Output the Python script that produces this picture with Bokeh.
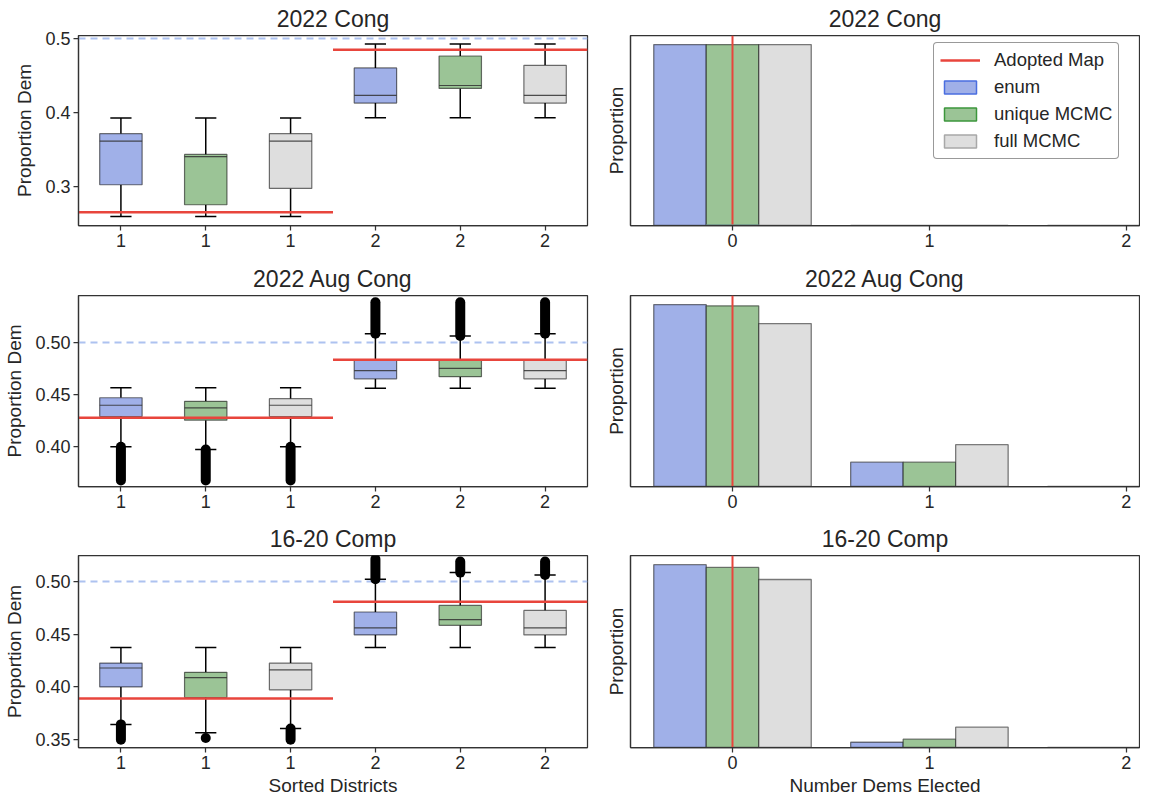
from bokeh.plotting import figure
from bokeh.layouts import column, row
from bokeh.models import Range1d, FixedTicker, PrintfTickFormatter, Legend, LegendItem, ColumnDataSource
from bokeh.embed import file_html
from bokeh.resources import INLINE

# ---------------- data ----------------
titles = ["2022 Cong", "2022 Aug Cong", "16-20 Comp"]
methods = ["enum", "unique MCMC", "full MCMC"]
district_labels = ["1", "2"]
n_dems = [0, 1, 2]

# boxplot stats, order: d1-enum, d1-unique, d1-full, d2-enum, d2-unique, d2-full
cong_wlo = [0.259, 0.259, 0.259, 0.3924, 0.3924, 0.3924]
cong_q1 = [0.302, 0.275, 0.297, 0.4123, 0.432, 0.4123]
cong_med = [0.361, 0.340, 0.361, 0.4226, 0.436, 0.4226]
cong_q3 = [0.371, 0.343, 0.371, 0.4597, 0.4758, 0.4633]
cong_whi = [0.392, 0.392, 0.392, 0.492, 0.492, 0.492]
cong_out_lo = [None, None, None, None, None, None]
cong_out_hi = [None, None, None, None, None, None]
cong_adopted = [0.265, 0.4843]

aug_wlo = [0.3997, 0.3972, 0.3997, 0.456, 0.456, 0.456]
aug_q1 = [0.4288, 0.4253, 0.4288, 0.4649, 0.467, 0.4649]
aug_med = [0.4396, 0.437, 0.4396, 0.4728, 0.475, 0.4728]
aug_q3 = [0.4468, 0.4434, 0.4459, 0.4826, 0.4826, 0.4826]
aug_whi = [0.4563, 0.4563, 0.4563, 0.5082, 0.506, 0.5082]
aug_out_lo = [0.3674, 0.3674, 0.3674, 0.5082, 0.506, 0.5082]
aug_out_hi = [0.3997, 0.3972, 0.3997, 0.5383, 0.5383, 0.5383]
aug_adopted = [0.4275, 0.4832]

comp_wlo = [0.364, 0.356, 0.360, 0.4371, 0.4371, 0.4371]
comp_q1 = [0.3997, 0.3896, 0.3968, 0.4492, 0.4583, 0.4492]
comp_med = [0.4177, 0.4085, 0.416, 0.4558, 0.4637, 0.4558]
comp_q3 = [0.4224, 0.4136, 0.4224, 0.471, 0.4773, 0.4725]
comp_whi = [0.4371, 0.4371, 0.4371, 0.5022, 0.5085, 0.5063]
comp_out_lo = [0.3494, 0.351, 0.3494, 0.5022, 0.5085, 0.5063]
comp_out_hi = [0.364, 0.351, 0.360, 0.5215, 0.519, 0.519]
comp_adopted = [0.3886, 0.4807]

# histogram of number of Dem seats won
cong_hist = {"enum": [1.0, 0.0, 0.0], "unique MCMC": [1.0, 0.0, 0.0], "full MCMC": [1.0, 0.0, 0.0]}
aug_hist = {"enum": [0.882, 0.118, 0.0], "unique MCMC": [0.876, 0.118, 0.0], "full MCMC": [0.790, 0.203, 0.0]}
comp_hist = {"enum": [0.972, 0.028, 0.0], "unique MCMC": [0.957, 0.044, 0.0], "full MCMC": [0.893, 0.108, 0.0]}
adopted_dems = [0, 0, 0]

half_line = 0.5

# ---------------- style ----------------
FONT = "Liberation Sans"
TXT = "#262626"
FILL = {"enum": "#a0b0e8", "unique MCMC": "#9bc496", "full MCMC": "#dedede"}
LEG_EDGE = {"enum": "#4a6ee0", "unique MCMC": "#3c963c", "full MCMC": "#a8a8a8"}
RED = "#e8453c"

boxes = [
    (cong_wlo, cong_q1, cong_med, cong_q3, cong_whi, cong_out_lo, cong_out_hi, cong_adopted, (0.247, 0.5035), [0.3, 0.4, 0.5], "%.1f"),
    (aug_wlo, aug_q1, aug_med, aug_q3, aug_whi, aug_out_lo, aug_out_hi, aug_adopted, (0.3617, 0.5448), [0.40, 0.45, 0.50], "%.2f"),
    (comp_wlo, comp_q1, comp_med, comp_q3, comp_whi, comp_out_lo, comp_out_hi, comp_adopted, (0.342, 0.5248), [0.35, 0.40, 0.45, 0.50], "%.2f"),
]
hists = [cong_hist, aug_hist, comp_hist]

row_borders = [(33, 35, 190), (33, 34, 191), (33, 53, 192)]  # top, bottom, frame height
LB, LF, LR = 78, 509, 5
RB, RF, RR = 38, 509, 1


def style(p):
    p.title.align = "center"
    p.title.text_font = FONT
    p.title.text_font_size = "23px"
    p.title.text_font_style = "normal"
    p.title.text_color = TXT
    p.title.standoff = 7
    p.xgrid.visible = False
    p.ygrid.visible = False
    p.outline_line_color = "#333333"
    p.outline_line_width = 1.25
    p.outline_line_alpha = 1.0
    for ax in p.axis:
        ax.axis_line_color = "#333333"
        ax.axis_line_width = 1.25
        ax.major_tick_line_color = "#333333"
        ax.major_tick_line_width = 1.25
        ax.major_tick_out = 5
        ax.major_tick_in = 0
        ax.minor_tick_line_color = None
        ax.major_label_text_font = FONT
        ax.major_label_text_font_size = "18px"
        ax.major_label_text_color = TXT
        ax.major_label_standoff = 3
        ax.axis_label_text_font = FONT
        ax.axis_label_text_font_size = "19px"
        ax.axis_label_text_font_style = "normal"
        ax.axis_label_text_color = TXT


n_m = len(methods)
positions = list(range(1, n_m * len(district_labels) + 1))

rows = []
for i in range(3):
    bt, bb, fh = row_borders[i]
    wlo, q1, med, q3, whi, olo, ohi, adopted, yr, yticks, fmt = boxes[i]

    # ---------- left: box plots ----------
    pl = figure(frame_width=LF, frame_height=fh, output_backend="svg", toolbar_location=None,
                x_range=Range1d(0.5, len(positions) + 0.5), y_range=Range1d(*yr), title=titles[i],
                min_border_left=LB, min_border_right=LR, min_border_top=bt, min_border_bottom=bb)
    style(pl)
    pl.yaxis.axis_label = "Proportion Dem"
    pl.yaxis.axis_label_standoff = 7
    pl.yaxis.ticker = FixedTicker(ticks=yticks)
    pl.yaxis.formatter = PrintfTickFormatter(format=fmt)
    pl.xaxis.ticker = FixedTicker(ticks=positions)
    pl.xaxis.major_label_overrides = {pos: district_labels[(pos - 1) // n_m] for pos in positions}
    if i == 2:
        pl.xaxis.axis_label = "Sorted Districts"
        pl.xaxis.axis_label_standoff = 3

    pl.hspan(y=[half_line], line_color="#adc2f0", line_width=2, line_dash="7 5")

    colors = [FILL[methods[(pos - 1) % n_m]] for pos in positions]
    src = ColumnDataSource(dict(x=positions, wlo=wlo, q1=q1, med=med, q3=q3, whi=whi, color=colors,
                                l=[x - 0.25 for x in positions], r=[x + 0.25 for x in positions],
                                cl=[x - 0.125 for x in positions], cr=[x + 0.125 for x in positions]))
    pl.segment(x0="x", y0="q3", x1="x", y1="whi", source=src, line_color="black", line_width=1.5)
    pl.segment(x0="x", y0="q1", x1="x", y1="wlo", source=src, line_color="black", line_width=1.5)
    pl.segment(x0="cl", y0="whi", x1="cr", y1="whi", source=src, line_color="black", line_width=1.5)
    pl.segment(x0="cl", y0="wlo", x1="cr", y1="wlo", source=src, line_color="black", line_width=1.5)
    ox = [x for x, a in zip(positions, olo) if a is not None]
    oa = [a for a in olo if a is not None]
    ob = [b for b in ohi if b is not None]
    if ox:
        pl.segment(x0=ox, y0=oa, x1=ox, y1=ob, line_color="black", line_width=10, line_cap="round")
    pl.vbar(x="x", width=0.5, bottom="q1", top="q3", source=src, fill_color="color",
            line_color="black", line_alpha=0.55, line_width=1.2)
    pl.segment(x0="l", y0="med", x1="r", y1="med", source=src, line_color="#333333", line_alpha=0.85, line_width=1.2)
    pl.segment(x0=[0.5 + n_m * d for d in range(len(adopted))], y0=adopted,
               x1=[0.5 + n_m * (d + 1) for d in range(len(adopted))], y1=adopted,
               line_color=RED, line_width=2.5)

    # ---------- right: histogram of dems elected ----------
    h = hists[i]
    ymax = 1.05 * max(max(v) for v in h.values())
    pr = figure(frame_width=RF, frame_height=fh, output_backend="svg", toolbar_location=None,
                x_range=Range1d(-0.518, 2.067), y_range=Range1d(0, ymax), title=titles[i],
                min_border_left=RB, min_border_right=RR, min_border_top=bt, min_border_bottom=bb)
    style(pr)
    pr.yaxis.axis_label = "Proportion"
    pr.yaxis.ticker = FixedTicker(ticks=[])
    pr.yaxis.major_tick_out = 0
    pr.yaxis.axis_label_standoff = 4
    pr.xaxis.ticker = FixedTicker(ticks=n_dems)
    if i == 2:
        pr.xaxis.axis_label = "Number Dems Elected"
        pr.xaxis.axis_label_standoff = 3

    bw = 0.8 / n_m
    for k, m in enumerate(methods):
        pr.vbar(x=[n + (k - 1) * bw for n in n_dems], top=h[m], width=bw, bottom=0,
                fill_color=FILL[m], line_color="black", line_alpha=0.5, line_width=1.3)
    pr.vspan(x=[adopted_dems[i]], line_color=RED, line_width=2)

    if i == 0:
        # legend proxies drawn on an off-screen range so only their legend glyphs show
        pr.extra_y_ranges = {"legend": Range1d(10, 11)}
        items = []
        r_line = pr.line(x=[adopted_dems[i], adopted_dems[i]], y=[0, 1], y_range_name="legend",
                         line_color=RED, line_width=2.5)
        items.append(LegendItem(label="Adopted Map", renderers=[r_line]))
        for m in methods:
            r = pr.vbar(x=n_dems[:1], top=h[m][:1], width=bw, y_range_name="legend",
                        fill_color=FILL[m], line_color=LEG_EDGE[m], line_width=1.5)
            items.append(LegendItem(label=m, renderers=[r]))
        leg = Legend(items=items, location=(303, 66))
        leg.label_text_font = FONT
        leg.label_text_font_size = "18.5px"
        leg.label_text_color = TXT
        leg.border_line_color = "#333333"
        leg.border_line_width = 1.5
        leg.background_fill_alpha = 1.0
        leg.glyph_width = 40
        leg.glyph_height = 16
        leg.label_height = 20
        leg.spacing = 5
        leg.padding = 6
        leg.label_standoff = 14
        leg.margin = 0
        if "border_radius" in leg.properties():
            leg.border_radius = 4
        pr.add_layout(leg)

    rows.append(row(pl, pr, spacing=0))

layout = column(*rows, spacing=0)
html = file_html(layout, INLINE)
html = html.replace("<head>", "<head><style>html, body { overflow: hidden; }</style>", 1)
open("out.html", "w").write(html)
